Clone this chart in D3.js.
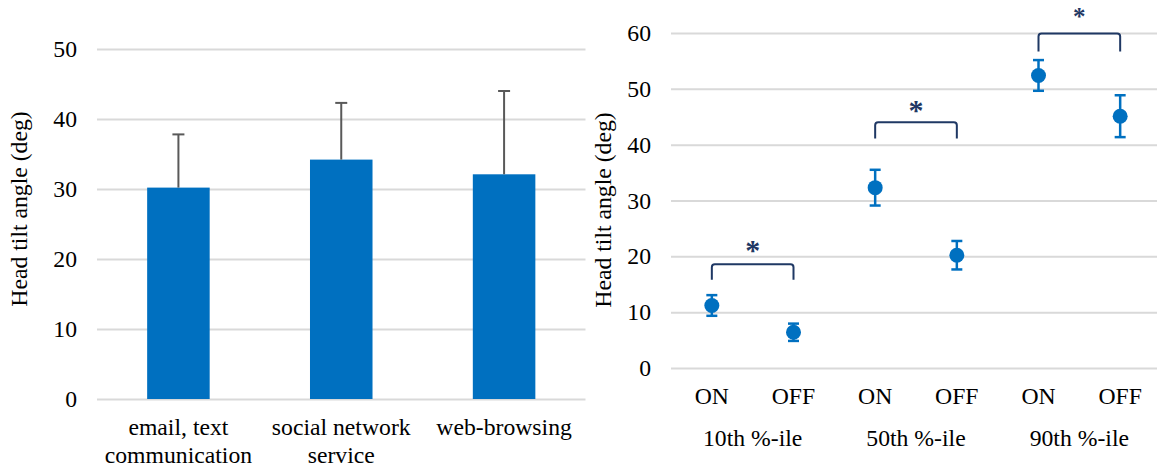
<!DOCTYPE html>
<html>
<head>
<meta charset="utf-8">
<script src="https://cdn.jsdelivr.net/npm/d3@7"></script>
<style>
  html, body { margin: 0; padding: 0; background: #fff; }
  svg { display: block; }
  text { font-family: "Liberation Serif", "Times New Roman", serif; fill: #000; }
</style>
</head>
<body>
<svg id="chart" width="1157" height="469"></svg>
<script>
// Left panel: mean head tilt angle per smartphone task (with SD)
const taskNames = [["email, text", "communication"], ["social network", "service"], ["web-browsing"]];
const taskMeans = [30.2, 34.2, 32.1];
const taskSD = [7.6, 8.1, 11.9];
const leftTicks = [0, 10, 20, 30, 40, 50];

// Right panel: percentile head tilt angles, screen ON vs OFF (with SD)
const groups = ["10th %-ile", "50th %-ile", "90th %-ile"];
const states = ["ON", "OFF"];
const onMeans = [11.2, 32.3, 52.4];
const onSD = [1.85, 3.2, 2.75];
const offMeans = [6.4, 20.2, 45.1];
const offSD = [1.55, 2.55, 3.75];
const rightTicks = [0, 10, 20, 30, 40, 50, 60];
// significance brackets: top and leg-end values, asterisk level
const bracketTop = [18.6, 44.0, 59.9];
const bracketLeg = [15.8, 41.1, 56.7];
const starLevel = [21.7, 46.9, 63.4];
const starSize = [30, 30, 25];

const svg = d3.select("#chart");
const blue = "#0070C0";
const gridColor = "#D9D9D9";
const fontSize = 23.7;

// ---------- Left panel ----------
const L = { x0: 97, x1: 585.5, y0: 399, y1: 49 };
const xL = d3.scaleBand().domain(d3.range(taskMeans.length)).range([L.x0, L.x1])
  .paddingInner(0.616).paddingOuter(0.308);
const yL = d3.scaleLinear().domain([0, 50]).range([L.y0, L.y1]);

const gL = svg.append("g");
const axL = gL.append("g").attr("transform", `translate(${L.x0},0)`)
  .call(d3.axisLeft(yL).tickValues(leftTicks).tickSize(-(L.x1 - L.x0)).tickPadding(20).tickFormat(d3.format("d")));
axL.select(".domain").remove();
axL.selectAll(".tick line").attr("stroke", gridColor).attr("stroke-width", 2);
axL.selectAll(".tick text").attr("font-size", fontSize).attr("fill", "#000")
  .style("font-family", '"Liberation Serif", serif');

gL.selectAll("rect.bar").data(taskMeans).join("rect")
  .attr("class", "bar")
  .attr("x", (d, i) => xL(i)).attr("width", xL.bandwidth())
  .attr("y", d => yL(d)).attr("height", d => yL(0) - yL(d))
  .attr("fill", blue);

const errL = gL.selectAll("g.err").data(taskMeans).join("g").attr("class", "err")
  .attr("stroke", "#595959").attr("stroke-width", 2);
errL.append("line")
  .attr("x1", (d, i) => xL(i) + xL.bandwidth() / 2).attr("x2", (d, i) => xL(i) + xL.bandwidth() / 2)
  .attr("y1", d => yL(d)).attr("y2", (d, i) => yL(d + taskSD[i]));
errL.append("line")
  .attr("x1", (d, i) => xL(i) + xL.bandwidth() / 2 - 6).attr("x2", (d, i) => xL(i) + xL.bandwidth() / 2 + 6)
  .attr("y1", (d, i) => yL(d + taskSD[i])).attr("y2", (d, i) => yL(d + taskSD[i]));

gL.selectAll("text.cat").data(taskNames).join("text")
  .attr("class", "cat")
  .attr("text-anchor", "middle").attr("font-size", fontSize)
  .each(function (lines, i) {
    const t = d3.select(this);
    lines.forEach((s, k) => {
      t.append("tspan").attr("x", xL(i) + xL.bandwidth() / 2).attr("y", 435 + k * 28).text(s);
    });
  });

gL.append("text")
  .attr("transform", `translate(27,209) rotate(-90)`)
  .attr("text-anchor", "middle").attr("font-size", fontSize)
  .text("Head tilt angle (deg)");

// ---------- Right panel ----------
const R = { x0: 671, x1: 1161, y0: 368, y1: 33 };
const slots = [];
groups.forEach((g, gi) => states.forEach((s, si) => slots.push({ g: gi, s: si, key: g + "|" + s })));
const xR = d3.scaleBand().domain(slots.map(d => d.key)).range([R.x0, R.x1]);
const cx = (gi, si) => xR(groups[gi] + "|" + states[si]) + xR.bandwidth() / 2;
const yR = d3.scaleLinear().domain([0, 60]).range([R.y0, R.y1]);

const gR = svg.append("g");
const axR = gR.append("g").attr("transform", `translate(${R.x0},0)`)
  .call(d3.axisLeft(yR).tickValues(rightTicks).tickSize(-(R.x1 - R.x0)).tickPadding(20).tickFormat(d3.format("d")));
axR.select(".domain").remove();
axR.selectAll(".tick line").attr("stroke", gridColor).attr("stroke-width", 2);
axR.selectAll(".tick text").attr("font-size", fontSize).attr("fill", "#000")
  .style("font-family", '"Liberation Serif", serif');

const pts = slots.map(d => ({
  x: cx(d.g, d.s),
  m: d.s === 0 ? onMeans[d.g] : offMeans[d.g],
  sd: d.s === 0 ? onSD[d.g] : offSD[d.g]
}));

const errR = gR.selectAll("g.perr").data(pts).join("g").attr("class", "perr")
  .attr("stroke", blue).attr("stroke-width", 2.5);
errR.append("line").attr("x1", d => d.x).attr("x2", d => d.x)
  .attr("y1", d => yR(d.m + d.sd)).attr("y2", d => yR(d.m - d.sd));
errR.append("line").attr("x1", d => d.x - 5.5).attr("x2", d => d.x + 5.5)
  .attr("y1", d => yR(d.m + d.sd)).attr("y2", d => yR(d.m + d.sd));
errR.append("line").attr("x1", d => d.x - 5.5).attr("x2", d => d.x + 5.5)
  .attr("y1", d => yR(d.m - d.sd)).attr("y2", d => yR(d.m - d.sd));

gR.selectAll("circle.pt").data(pts).join("circle")
  .attr("class", "pt")
  .attr("cx", d => d.x).attr("cy", d => yR(d.m)).attr("r", 7.5)
  .attr("fill", blue);

// significance brackets
const navy = "#1F3864";
groups.forEach((g, gi) => {
  const xa = cx(gi, 0), xb = cx(gi, 1);
  const yt = yR(bracketTop[gi]), yb = yR(bracketLeg[gi]);
  const r = 3;
  gR.append("path")
    .attr("d", `M${xa},${yb} L${xa},${yt + r} Q${xa},${yt} ${xa + r},${yt} L${xb - r},${yt} Q${xb},${yt} ${xb},${yt + r} L${xb},${yb}`)
    .attr("fill", "none").attr("stroke", navy).attr("stroke-width", 2);
  gR.append("text")
    .attr("x", (xa + xb) / 2).attr("y", yR(starLevel[gi]) + starSize[gi] * 0.45)
    .attr("text-anchor", "middle").attr("font-size", starSize[gi]).attr("font-weight", "bold")
    .attr("fill", navy).style("fill", navy)
    .text("*");
});

// category labels
gR.selectAll("text.state").data(slots).join("text")
  .attr("class", "state")
  .attr("x", d => cx(d.g, d.s)).attr("y", 404)
  .attr("text-anchor", "middle").attr("font-size", fontSize)
  .text(d => states[d.s]);
gR.selectAll("text.grp").data(groups).join("text")
  .attr("class", "grp")
  .attr("x", (d, gi) => (cx(gi, 0) + cx(gi, 1)) / 2).attr("y", 446)
  .attr("text-anchor", "middle").attr("font-size", fontSize)
  .text(d => d);

gR.append("text")
  .attr("transform", `translate(611,210) rotate(-90)`)
  .attr("text-anchor", "middle").attr("font-size", fontSize)
  .text("Head tilt angle (deg)");
</script>
</body>
</html>
